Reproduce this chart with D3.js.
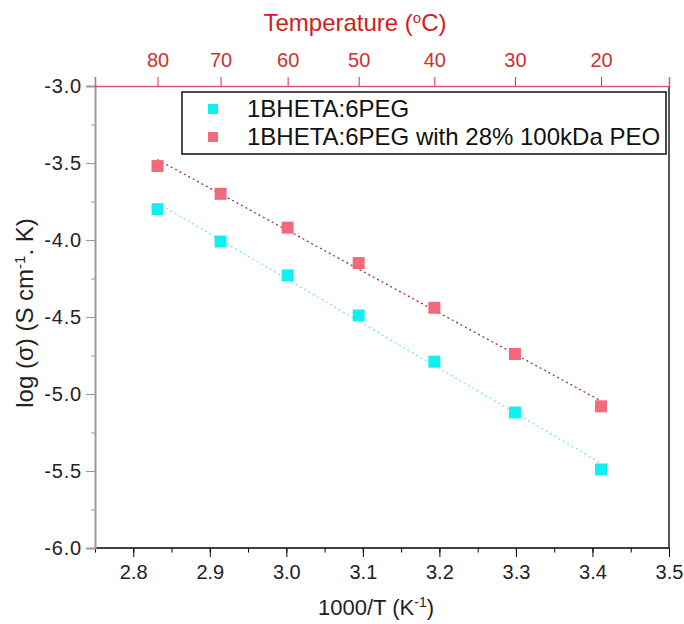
<!DOCTYPE html>
<html>
<head>
<meta charset="utf-8">
<script src="https://cdn.jsdelivr.net/npm/d3@7"></script>
<style>
  body { margin: 0; background: #fff; }
  svg { font-family: Arial, "Liberation Sans", sans-serif; }
</style>
</head>
<body>
<svg width="684" height="624"></svg>
<script>
// temperatures (degC) of the measurements, x = 1000/T(K)
var tempsC = [80, 70, 60, 50, 40, 30, 20];
var invT = [2.8317, 2.9141, 3.0017, 3.0945, 3.1934, 3.2987, 3.4112];

// log(sigma)
var plainPeg = [-3.80, -4.01, -4.23, -4.49, -4.79, -5.12, -5.49];
var pegWithPeo = [-3.52, -3.70, -3.92, -4.15, -4.44, -4.74, -5.08];

var seriesNames = ["1BHETA:6PEG", "1BHETA:6PEG with 28% 100kDa PEO"];
var seriesColors = ["#0ff0f0", "#f06a7a"];
var fitColors = ["#7fe6e6", "#a03050"];

var xTicks = [2.8, 2.9, 3.0, 3.1, 3.2, 3.3, 3.4, 3.5];
var yTicks = [-3.0, -3.5, -4.0, -4.5, -5.0, -5.5, -6.0];

var svg = d3.select("svg");
var pl = 95, pr = 669, pt = 86, pb = 548;

var x = d3.scaleLinear().domain([2.75, 3.5]).range([pl, pr]);
var y = d3.scaleLinear().domain([-6.0, -3.0]).range([pb, pt]);

// frame pieces (each side its own colour, like the original)
svg.append("line").attr("x1", pl).attr("x2", pr).attr("y1", pb).attr("y2", pb)
  .attr("stroke", "#000").attr("stroke-width", 1.5);
svg.append("line").attr("x1", pr).attr("x2", pr).attr("y1", pt).attr("y2", pb)
  .attr("stroke", "#222").attr("stroke-width", 1.5);

// bottom axis
var xAxis = svg.append("g").attr("transform", "translate(0," + pb + ")");
xAxis.call(d3.axisBottom(x).tickValues(d3.range(2.75, 3.5001, 0.05)).tickSize(4.5).tickFormat(""));
xAxis.select(".domain").remove();
xAxis.selectAll("line").attr("stroke", "#000");
var xAxis2 = svg.append("g").attr("transform", "translate(0," + pb + ")");
xAxis2.call(d3.axisBottom(x).tickValues(xTicks).tickSize(9).tickPadding(8).tickFormat(d => d.toFixed(1)));
xAxis2.select(".domain").remove();
xAxis2.selectAll("line").attr("stroke", "#000");
xAxis2.selectAll("text").attr("font-size", 20).attr("fill", "#222");

// left axis
var yAxis = svg.append("g").attr("transform", "translate(" + pl + ",0)");
yAxis.call(d3.axisLeft(y).tickValues(d3.range(-6.0, -2.999, 0.25)).tickSize(4).tickFormat(""));
yAxis.select(".domain").remove();
yAxis.selectAll("line").attr("stroke", "#999");
var yAxis2 = svg.append("g").attr("transform", "translate(" + pl + ",0)");
yAxis2.call(d3.axisLeft(y).tickValues(yTicks).tickSize(9).tickPadding(4).tickFormat(d => d.toFixed(1)));
yAxis2.select(".domain").attr("stroke", "#999").attr("stroke-width", 2);
yAxis2.selectAll("line").attr("stroke", "#999");
yAxis2.selectAll("text").attr("font-size", 20).attr("letter-spacing", 0.8).attr("fill", "#222");

// top axis in temperature
var topAxis = svg.append("g").attr("transform", "translate(0," + pt + ")");
topAxis.call(d3.axisTop(x).tickValues(invT).tickSize(9).tickPadding(10)
  .tickFormat((d, i) => tempsC[i]));
topAxis.select(".domain").attr("stroke", "#d06070").attr("stroke-width", 1.5);
topAxis.selectAll("line").attr("stroke", "#d03040");
topAxis.selectAll("text").attr("font-size", 20).attr("fill", "#d03030");

// axis titles
svg.append("text").attr("x", 355).attr("y", 31).attr("text-anchor", "middle")
  .attr("font-size", 24).attr("fill", "#d02020").html("Temperature (<tspan baseline-shift='super' font-size='15'>o</tspan>C)");
svg.append("text").attr("x", 376).attr("y", 615).attr("text-anchor", "middle")
  .attr("font-size", 22).attr("fill", "#222").html("1000/T (K<tspan baseline-shift='super' font-size='14'>-1</tspan>)");
svg.append("text").attr("transform", "translate(33,313) rotate(-90)")
  .attr("text-anchor", "middle").attr("font-size", 24).attr("fill", "#222")
  .html("log (&#963;) (S cm<tspan baseline-shift='super' font-size='15'>-1</tspan>. K)");

// fit lines + markers
var allSeries = [plainPeg, pegWithPeo];
allSeries.forEach(function(vals, k) {
  var mx = d3.mean(invT), my = d3.mean(vals);
  var sxy = d3.sum(invT, (v, i) => (v - mx) * (vals[i] - my));
  var sxx = d3.sum(invT, v => (v - mx) * (v - mx));
  var slope = sxy / sxx, icpt = my - slope * mx;
  var x0 = invT[0], x1 = invT[invT.length - 1];
  svg.append("line")
    .attr("x1", x(x0)).attr("y1", y(icpt + slope * x0))
    .attr("x2", x(x1)).attr("y2", y(icpt + slope * x1))
    .attr("stroke", fitColors[k]).attr("stroke-width", 1.3)
    .attr("stroke-dasharray", "2,3");
  svg.selectAll(".pt" + k).data(vals).enter().append("rect")
    .attr("x", (d, i) => x(invT[i]) - 6)
    .attr("y", d => y(d) - 6)
    .attr("width", 12).attr("height", 12)
    .attr("fill", seriesColors[k]);
});

// legend
var lg = svg.append("g");
lg.append("rect").attr("x", 182).attr("y", 92).attr("width", 484).attr("height", 62)
  .attr("fill", "#fff").attr("stroke", "#111").attr("stroke-width", 1.5);
seriesNames.forEach(function(name, k) {
  var cy = 109 + k * 28;
  lg.append("rect").attr("x", 208).attr("y", cy - 5).attr("width", 10).attr("height", 10)
    .attr("fill", seriesColors[k]);
  lg.append("text").attr("x", 247).attr("y", cy + 8).attr("font-size", 24).attr("fill", "#111")
    .text(name);
});
</script>
</body>
</html>
